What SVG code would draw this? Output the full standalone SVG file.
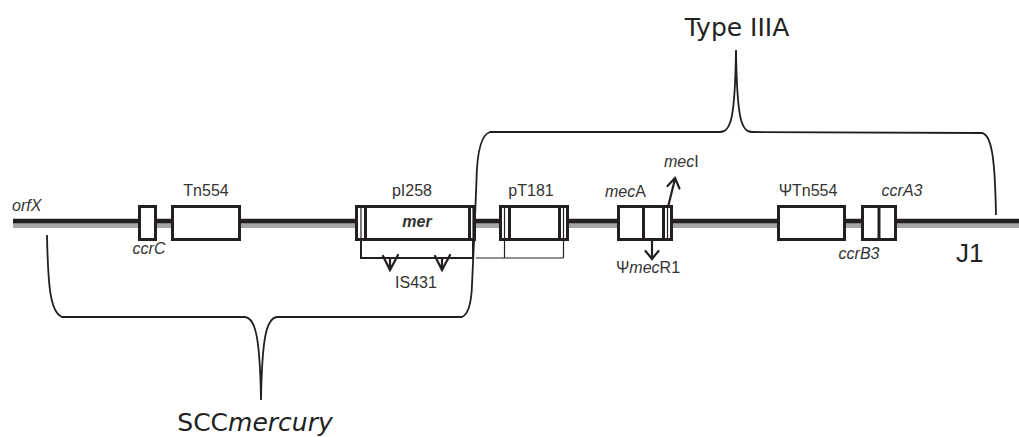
<svg xmlns="http://www.w3.org/2000/svg" width="1019" height="437" viewBox="0 0 1019 437">
<style>
.lbl{font-family:"Liberation Sans",Arial,sans-serif;font-size:16px;fill:#333}
.it{font-style:italic}
.big{font-family:"DejaVu Sans",Verdana,sans-serif;font-size:25px;fill:#222}
.box{fill:#fff;stroke:#231f20;stroke-width:3}
.div{stroke:#231f20;stroke-width:3}
.thin{stroke:#231f20;stroke-width:1.2;fill:none}
.brk{stroke:#231f20;stroke-width:2;fill:none}
.arr{stroke:#231f20;stroke-width:2.2;fill:none;stroke-linecap:round;stroke-linejoin:miter}
.brace{stroke:#231f20;stroke-width:1.8;fill:none}
</style>
<rect width="1019" height="437" fill="#fff"/>
<g id="connectors">
<line x1="13" y1="225.5" x2="1019" y2="225.5" stroke="#a6a6a6" stroke-width="5"/>
<line x1="13" y1="221" x2="1019" y2="221" stroke="#231f20" stroke-width="4.5"/>
<path class="brace" d="M474.5,230 L476.5,180 C477,155 480,135 490,132 L720,132 C731,132 735,118 736,50 C737,118 741,132 752,132 L982,133 C992,135 995,160 996,215"/>
<path class="brace" d="M47,235 C48,285 50,312 62,317 L245,317 C256,318 260,340 261,400 C262,340 266,318 277,317 L462,317 C469,314 471.5,300 472,285 L474.5,230"/>
</g>
<g id="orfX"><text class="lbl it" x="12" y="211">orfX</text></g>
<g id="ccrC">
<rect class="box" x="139.5" y="206.5" width="16" height="33"/>
<text class="lbl it" x="149" y="254" text-anchor="middle">ccrC</text>
</g>
<g id="Tn554">
<rect class="box" x="172.5" y="206.5" width="67" height="33"/>
<text class="lbl" x="206" y="196" text-anchor="middle">Tn554</text>
</g>
<g id="pI258">
<rect class="box" x="356.5" y="206.5" width="118" height="33"/>
<line class="div" x1="365.5" y1="206.5" x2="365.5" y2="239.5"/>
<line class="div" x1="469.5" y1="206.5" x2="469.5" y2="239.5"/>
<line class="thin" x1="361" y1="206.5" x2="361" y2="239.5"/>
<line class="thin" x1="473" y1="206.5" x2="473" y2="239.5"/>
<path class="brk" d="M361,239.5 V258 H473 V239.5"/>
<text class="lbl" x="412" y="196" text-anchor="middle">pI258</text>
<text class="lbl it" x="417" y="227" text-anchor="middle" font-weight="bold">mer</text>
</g>
<g id="IS431">
<path class="arr" d="M390,258 V270 M383,256 L390,270 L398,255"/>
<path class="arr" d="M442,258 V270 M435,256 L442,270 L450,255"/>
<text class="lbl" x="416" y="288" text-anchor="middle">IS431</text>
</g>
<g id="pT181">
<rect class="box" x="500.5" y="206.5" width="67" height="33"/>
<line class="div" x1="509.5" y1="206.5" x2="509.5" y2="239.5"/>
<line class="div" x1="559.5" y1="206.5" x2="559.5" y2="239.5"/>
<line class="thin" x1="504.5" y1="206.5" x2="504.5" y2="239.5"/>
<line class="thin" x1="563.5" y1="206.5" x2="563.5" y2="239.5"/>
<path class="thin" d="M504.5,239.5 V258 M563.5,239.5 V258 M476,258 H563.5"/>
<text class="lbl" x="531" y="196" text-anchor="middle">pT181</text>
</g>
<g id="mecA">
<rect class="box" x="618.5" y="206.5" width="53" height="33"/>
<line class="div" x1="643.5" y1="206.5" x2="643.5" y2="239.5"/>
<line class="div" x1="663.5" y1="206.5" x2="663.5" y2="239.5"/>
<line class="thin" x1="667.5" y1="206.5" x2="667.5" y2="239.5"/>
<text class="lbl" x="605" y="197"><tspan class="it">mec</tspan>A</text>
</g>
<g id="mecI">
<path class="arr" d="M668,207 L675,179 M667.5,186 L675,178 L679.5,188.5"/>
<text class="lbl" x="664" y="167"><tspan class="it">mec</tspan>I</text>
</g>
<g id="mecR1">
<path class="arr" d="M652,240 V258 M645.5,251 L652,259 L658.5,251"/>
<text class="lbl" x="648" y="273" text-anchor="middle">Ψ<tspan class="it">mec</tspan>R1</text>
</g>
<g id="psiTn554">
<rect class="box" x="778.5" y="206.5" width="66" height="33"/>
<text class="lbl" x="808" y="196" text-anchor="middle">ΨTn554</text>
</g>
<g id="ccrAB3">
<rect class="box" x="862.5" y="206.5" width="33" height="33"/>
<line class="div" x1="879" y1="206.5" x2="879" y2="239.5"/>
<text class="lbl it" x="902" y="196" text-anchor="middle">ccrA3</text>
<text class="lbl it" x="859" y="259" text-anchor="middle">ccrB3</text>
</g>
<g id="J1"><text x="956" y="262" font-family="Liberation Sans, Arial, sans-serif" font-size="26" fill="#222">J1</text></g>
<g id="TypeIIIA"><text class="big" x="737" y="36" text-anchor="middle">Type IIIA</text></g>
<g id="SCCmercury"><text class="big" x="255" y="431" text-anchor="middle" font-size="23.5">SCC<tspan font-style="italic">mercury</tspan></text></g>
</svg>
